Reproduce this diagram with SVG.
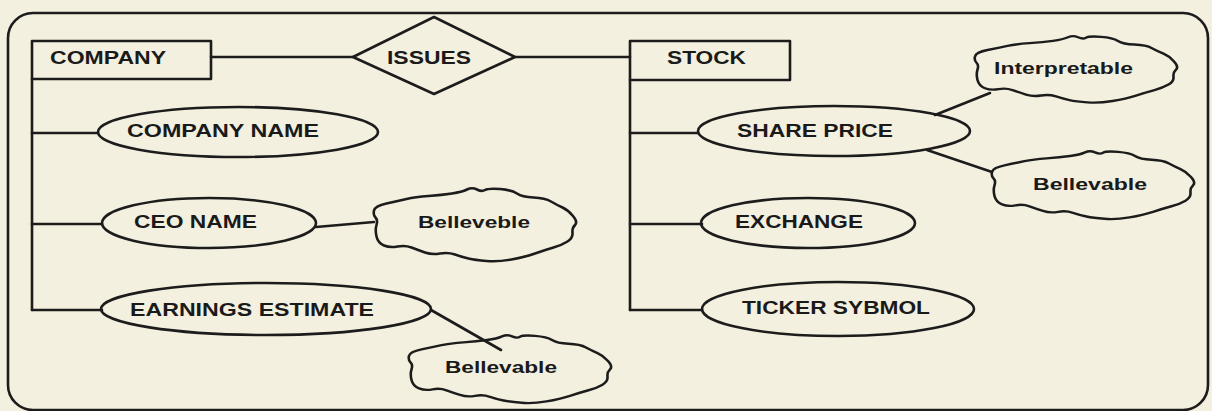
<svg xmlns="http://www.w3.org/2000/svg" xmlns:xlink="http://www.w3.org/1999/xlink" width="1212" height="411" viewBox="0 0 1212 411">
<style>
.bg{fill:#f4f0df}
.sh{fill:none;stroke:#1c1c1c;stroke-width:2.6;stroke-linejoin:round;stroke-linecap:round}
.ln{fill:none;stroke:#1c1c1c;stroke-width:2.6;stroke-linecap:round}
.cl{fill:none;stroke:#1c1c1c;stroke-width:2.6;stroke-linejoin:round;vector-effect:non-scaling-stroke}
.t{font-family:"Liberation Sans",Arial,sans-serif;font-weight:bold;font-size:18px;fill:#1a1a1a}
.tc{font-family:"Liberation Sans",Arial,sans-serif;font-weight:bold;font-size:16px;fill:#1a1a1a}
</style>
<defs>
<path id="cloud" d="M2,23.5 Q3,19 14.5,16.5 Q26,14 34.5,12 Q43,10 56.5,9 Q70,8 80,6.5 Q90,5 95,2.5 Q100,0 105,2.5 Q110,5 113,3 Q116,1 128,2 Q140,3 145,6.5 Q150,10 161.5,10.5 Q173,11 179,14.5 Q185,18 190.5,20.5 Q196,23 201,29 Q206,35 203,38 Q200,41 200.5,46 Q201,51 195.5,54.5 Q190,58 181.5,60.5 Q173,63 163,66.5 Q153,70 139.5,72.5 Q126,75 114.5,74 Q103,73 96.5,71.5 Q90,70 83,67.5 Q76,65 68,66.5 Q60,68 53,65.5 Q46,63 39.5,60.5 Q33,58 25.5,59.5 Q18,61 12,58.5 Q6,56 4.5,49.5 Q3,43 4.5,38 Q6,33 3.5,30.5 Q1,28 2,23.5 Z"/>
</defs>
<rect class="bg" x="0" y="0" width="1212" height="411"/>
<rect id="frame" class="sh" x="8" y="13" width="1200" height="397" rx="25" ry="25"/>

<g id="connectors">
<line class="ln" x1="211" y1="57" x2="353" y2="57"/>
<line class="ln" x1="515" y1="57" x2="630" y2="57"/>
<line class="ln" x1="32" y1="79" x2="32" y2="310"/>
<line class="ln" x1="32" y1="133" x2="98" y2="133"/>
<line class="ln" x1="32" y1="224" x2="102" y2="224"/>
<line class="ln" x1="32" y1="310" x2="102" y2="310"/>
<line class="ln" x1="316" y1="227" x2="374" y2="222"/>
<line class="ln" x1="431" y1="310" x2="501" y2="350"/>
<line class="ln" x1="630" y1="80" x2="630" y2="310"/>
<line class="ln" x1="630" y1="133" x2="698" y2="133"/>
<line class="ln" x1="630" y1="224" x2="702" y2="224"/>
<line class="ln" x1="630" y1="310" x2="702" y2="310"/>
<line class="ln" x1="935" y1="115" x2="990" y2="93"/>
<line class="ln" x1="927" y1="150" x2="992" y2="172"/>
</g>

<g id="company">
<rect class="sh" x="32" y="41" width="179" height="38"/>
<text class="t" x="50" y="64" textLength="116" lengthAdjust="spacingAndGlyphs">COMPANY</text>
</g>
<g id="issues">
<polygon class="sh" points="353,57 434,17 515,57 434,94"/>
<text class="t" x="387" y="64" textLength="84" lengthAdjust="spacingAndGlyphs">ISSUES</text>
</g>
<g id="stock">
<rect class="sh" x="630" y="41" width="160" height="39"/>
<text class="t" x="667" y="64" textLength="79" lengthAdjust="spacingAndGlyphs">STOCK</text>
</g>

<g id="company-name">
<ellipse class="sh" cx="238" cy="132" rx="140" ry="25"/>
<text class="t" x="127" y="137" textLength="192" lengthAdjust="spacingAndGlyphs">COMPANY NAME</text>
</g>
<g id="ceo-name">
<ellipse class="sh" cx="209" cy="223" rx="107" ry="25"/>
<text class="t" x="134" y="228" textLength="123" lengthAdjust="spacingAndGlyphs">CEO NAME</text>
</g>
<g id="earnings-estimate">
<ellipse class="sh" cx="266" cy="309" rx="165" ry="26"/>
<text class="t" x="130" y="316" textLength="244" lengthAdjust="spacingAndGlyphs">EARNINGS ESTIMATE</text>
</g>
<g id="share-price">
<ellipse class="sh" cx="834" cy="131" rx="136" ry="25"/>
<text class="t" x="737" y="137" textLength="156" lengthAdjust="spacingAndGlyphs">SHARE PRICE</text>
</g>
<g id="exchange">
<ellipse class="sh" cx="808" cy="223" rx="107" ry="25"/>
<text class="t" x="735" y="228" textLength="128" lengthAdjust="spacingAndGlyphs">EXCHANGE</text>
</g>
<g id="ticker-symbol">
<ellipse class="sh" cx="838" cy="309" rx="136" ry="27"/>
<text class="t" x="742" y="314" textLength="188" lengthAdjust="spacingAndGlyphs">TICKER SYBMOL</text>
</g>

<g id="cloud-ceo">
<use xlink:href="#cloud" href="#cloud" class="cl" transform="translate(372,187)"/>
<text class="tc" x="418" y="228" textLength="112" lengthAdjust="spacingAndGlyphs">Belleveble</text>
</g>
<g id="cloud-earnings">
<use xlink:href="#cloud" href="#cloud" class="cl" transform="translate(407,334) scale(1,0.93)"/>
<text class="tc" x="445" y="373" textLength="112" lengthAdjust="spacingAndGlyphs">Bellevable</text>
</g>
<g id="cloud-interpretable">
<use xlink:href="#cloud" href="#cloud" class="cl" transform="translate(973,35) scale(1,0.91)"/>
<text class="tc" x="994" y="74" textLength="139" lengthAdjust="spacingAndGlyphs">Interpretable</text>
</g>
<g id="cloud-share">
<use xlink:href="#cloud" href="#cloud" class="cl" transform="translate(990,150) scale(1,0.93)"/>
<text class="tc" x="1033" y="190" textLength="114" lengthAdjust="spacingAndGlyphs">Bellevable</text>
</g>
</svg>
